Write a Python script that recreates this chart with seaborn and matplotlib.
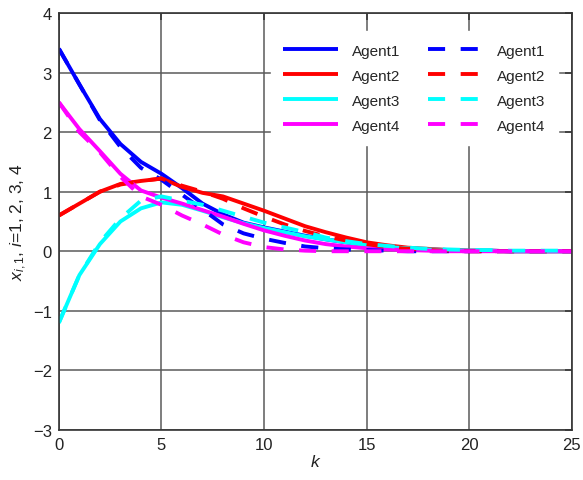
import numpy as np
import pandas as pd
import matplotlib
matplotlib.use("Agg")
import matplotlib.pyplot as plt
import seaborn as sns

# time steps
k = list(range(26))

# first state component of each agent, two runs (solid / dashed)
agent1_solid = [3.4, 2.8, 2.22, 1.8, 1.5, 1.3, 1.06, 0.8, 0.62, 0.48, 0.4, 0.33, 0.26,
                0.2, 0.15, 0.1, 0.07, 0.05, 0.03, 0.02, 0.01, 0.01, 0.0, 0.0, 0.0, 0.0]
agent2_solid = [0.6, 0.8, 1.0, 1.13, 1.18, 1.22, 1.08, 0.98, 0.92, 0.8, 0.68, 0.55, 0.42,
                0.32, 0.23, 0.15, 0.1, 0.06, 0.04, 0.02, 0.01, 0.01, 0.0, 0.0, 0.0, 0.0]
agent3_solid = [-1.2, -0.4, 0.12, 0.5, 0.72, 0.82, 0.78, 0.68, 0.57, 0.47, 0.39, 0.32, 0.25,
                0.2, 0.15, 0.1, 0.07, 0.05, 0.03, 0.02, 0.01, 0.01, 0.0, 0.0, 0.0, 0.0]
agent4_solid = [2.5, 2.05, 1.68, 1.3, 1.02, 0.9, 0.8, 0.69, 0.58, 0.46, 0.35, 0.26, 0.18,
                0.12, 0.08, 0.05, 0.03, 0.02, 0.01, 0.0, 0.0, 0.0, 0.0, 0.0, 0.0, 0.0]

agent1_dashed = [3.4, 2.8, 2.2, 1.75, 1.4, 1.2, 0.95, 0.7, 0.45, 0.3, 0.21, 0.14, 0.08,
                 0.05, 0.03, 0.02, 0.01, 0.0, 0.0, 0.0, 0.0, 0.0, 0.0, 0.0, 0.0, 0.0]
agent2_dashed = [0.6, 0.8, 1.0, 1.12, 1.18, 1.22, 1.1, 1.0, 0.88, 0.72, 0.58, 0.45, 0.34,
                 0.25, 0.18, 0.12, 0.07, 0.04, 0.02, 0.01, 0.0, 0.0, 0.0, 0.0, 0.0, 0.0]
agent3_dashed = [-1.2, -0.4, 0.15, 0.55, 0.85, 0.92, 0.85, 0.78, 0.68, 0.58, 0.48, 0.4, 0.32,
                 0.23, 0.17, 0.12, 0.09, 0.06, 0.04, 0.03, 0.02, 0.02, 0.01, 0.01, 0.01, 0.01]
agent4_dashed = [2.5, 2.0, 1.66, 1.25, 0.92, 0.78, 0.6, 0.45, 0.28, 0.15, 0.07, 0.03, 0.01,
                 0.0, 0.0, 0.0, 0.0, 0.0, 0.0, 0.0, 0.0, 0.0, 0.0, 0.0, 0.0, 0.0]

labels = ["Agent1", "Agent2", "Agent3", "Agent4"]
colors = ["#0000ff", "#ff0000", "#00ffff", "#ff00ff"]
solid = [agent1_solid, agent2_solid, agent3_solid, agent4_solid]
dashed = [agent1_dashed, agent2_dashed, agent3_dashed, agent4_dashed]

sns.set_theme(style="white")
plt.rcParams["font.family"] = ["Liberation Sans", "DejaVu Sans"]
plt.rcParams["mathtext.fontset"] = "custom"
plt.rcParams["mathtext.rm"] = "Liberation Sans"
plt.rcParams["mathtext.it"] = "Liberation Sans:italic"

fig = plt.figure(figsize=(5.83, 4.81), dpi=100)
ax = fig.add_axes([0.101, 0.104, 0.880, 0.867])

lw = 2.8
for lab, col, ys in zip(labels, colors, solid):
    sns.lineplot(x=k, y=ys, ax=ax, color=col, lw=lw, label=lab,
                 solid_capstyle="butt")
for lab, col, ys in zip(labels, colors, dashed):
    sns.lineplot(x=k, y=ys, ax=ax, color=col, lw=lw, label=lab,
                 dashes=False)
    ax.lines[-1].set_linestyle((0, (4.4, 4.0)))

ax.set_xlim(0, 25)
ax.set_ylim(-3, 4)
ax.set_xticks(range(0, 26, 5))
ax.set_yticks(range(-3, 5))
ax.set_yticklabels(["\u22123", "\u22122", "\u22121", "0", "1", "2", "3", "4"])
ax.grid(True, color="#5a5a5a", lw=1.1)
ax.set_axisbelow(True)
for sp in ax.spines.values():
    sp.set_color("#333333")
    sp.set_linewidth(1.2)
ax.tick_params(direction="in", length=5, width=1.1, color="#333333",
               top=True, right=True, labelsize=12, pad=5,
               labelcolor="#222222")

ax.set_xlabel("$k$", fontsize=12.5, labelpad=1, color="#222222")
ax.set_ylabel("$x_{i,1}$, $i$=1, 2, 3, 4", fontsize=12.5, labelpad=3,
              color="#222222")

handles, labs = ax.get_legend_handles_labels()
leg = ax.legend(handles, labs, ncol=2, loc="upper right",
                bbox_to_anchor=(0.972, 0.956), fontsize=11,
                handlelength=3.6, handletextpad=0.9, columnspacing=1.85,
                labelspacing=0.72, frameon=True, fancybox=False,
                borderpad=0.8, borderaxespad=0.0)
leg.get_frame().set_facecolor("white")
leg.get_frame().set_edgecolor("white")
leg.get_frame().set_alpha(1.0)

fig.savefig("out.png", dpi=100)
